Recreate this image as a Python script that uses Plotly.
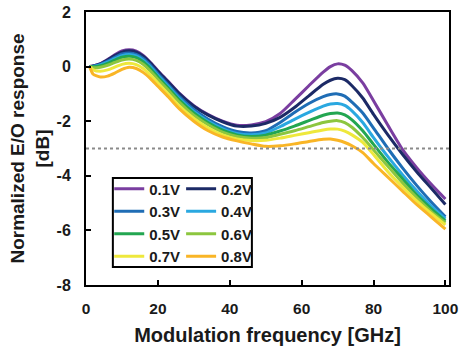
import plotly.graph_objects as go

freq = [1, 2, 4, 6, 8, 10, 12, 14, 16, 18, 20, 23, 26, 30, 34, 38, 42, 46, 50, 54,
        58, 62, 66, 68, 70, 72, 74, 77, 80, 84, 88, 92, 96, 100]

v01 = [0, 0.02, 0.11, 0.26, 0.43, 0.57, 0.62, 0.57, 0.40, 0.14, -0.15, -0.56, -0.98, -1.43, -1.76, -2.0, -2.15, -2.14, -2.02, -1.72,
       -1.22, -0.70, -0.20, 0.0, 0.10, 0.05, -0.15, -0.60, -1.25, -2.15, -3.02, -3.70, -4.30, -4.85]
v02 = [0, 0.02, 0.10, 0.24, 0.40, 0.53, 0.58, 0.53, 0.37, 0.12, -0.17, -0.58, -1.0, -1.45, -1.78, -2.02, -2.18, -2.18, -2.08, -1.86,
       -1.50, -1.07, -0.65, -0.50, -0.43, -0.48, -0.70, -1.15, -1.75, -2.50, -3.20, -3.85, -4.45, -5.05]
v03 = [0, 0.01, 0.08, 0.20, 0.34, 0.46, 0.50, 0.45, 0.29, 0.04, -0.26, -0.68, -1.10, -1.57, -1.93, -2.20, -2.38, -2.43, -2.35, -2.05,
       -1.68, -1.35, -1.10, -1.02, -1.0, -1.08, -1.30, -1.70, -2.25, -3.0, -3.70, -4.35, -4.95, -5.50]
v04 = [0, 0.0, 0.06, 0.16, 0.29, 0.40, 0.44, 0.39, 0.23, -0.02, -0.32, -0.74, -1.17, -1.64, -2.0, -2.27, -2.45, -2.50, -2.43, -2.20,
       -1.93, -1.68, -1.45, -1.37, -1.35, -1.42, -1.62, -2.05, -2.60, -3.30, -3.95, -4.55, -5.10, -5.58]
v05 = [0, -0.01, 0.03, 0.12, 0.24, 0.34, 0.38, 0.33, 0.17, -0.08, -0.38, -0.80, -1.23, -1.70, -2.06, -2.33, -2.50, -2.56, -2.51, -2.36,
       -2.18, -1.98, -1.78, -1.72, -1.70, -1.77, -1.95, -2.35, -2.85, -3.50, -4.10, -4.70, -5.20, -5.65]
v06 = [0, -0.04, -0.02, 0.05, 0.15, 0.24, 0.28, 0.23, 0.08, -0.17, -0.46, -0.88, -1.31, -1.78, -2.13, -2.40, -2.56, -2.62, -2.60, -2.48,
       -2.35, -2.20, -2.05, -2.0, -1.98, -2.05, -2.22, -2.60, -3.05, -3.65, -4.25, -4.80, -5.30, -5.72]
v07 = [0, -0.12, -0.17, -0.12, -0.02, 0.08, 0.12, 0.07, -0.08, -0.32, -0.60, -1.02, -1.45, -1.90, -2.25, -2.50, -2.65, -2.71, -2.70, -2.62,
       -2.52, -2.42, -2.32, -2.29, -2.29, -2.36, -2.50, -2.78, -3.22, -3.85, -4.40, -4.92, -5.38, -5.80]
v08 = [0, -0.28, -0.38, -0.35, -0.24, -0.10, -0.02, -0.07, -0.22, -0.45, -0.72, -1.12, -1.55, -2.0, -2.35, -2.58, -2.72, -2.83, -2.92, -2.90,
       -2.83, -2.74, -2.66, -2.65, -2.70, -2.78, -2.90, -3.15, -3.55, -4.05, -4.55, -5.05, -5.50, -5.95]

labels = ["0.1V", "0.2V", "0.3V", "0.4V", "0.5V", "0.6V", "0.7V", "0.8V"]
series = [v01, v02, v03, v04, v05, v06, v07, v08]
colors = ["#7a3ea0", "#1c2a66", "#1f6db5", "#2aa8e0", "#23a651", "#8cc63f", "#eee83c", "#f9b526"]

x_ticks = [0, 20, 40, 60, 80, 100]
y_ticks = [2, 0, -2, -4, -6, -8]
threshold = -3

FONT = "Liberation Sans, Arial, sans-serif"
TXT = "#1a1a1a"

fig = go.Figure()
for i, (lab, vals, col) in enumerate(zip(labels, series, colors)):
    fig.add_trace(go.Scatter(
        x=freq, y=vals, mode="lines", name=lab,
        line=dict(color=col, width=3, shape="spline", smoothing=0.6),
        legend="legend" if i % 2 == 0 else "legend2",
    ))

fig.add_hline(y=threshold, line=dict(color="#8a8a8a", width=2, dash="dot"))

fig.add_shape(type="rect", xref="paper", yref="paper",
              x0=0.074, x1=0.457, y0=0.066, y1=0.392,
              line=dict(color="black", width=2), fillcolor="rgba(0,0,0,0)")

legend_common = dict(
    font=dict(family=FONT, size=15, color=TXT, weight="bold"),
    bgcolor="rgba(0,0,0,0)", borderwidth=0,
    orientation="v", xanchor="left", yanchor="top",
    itemwidth=30, tracegroupgap=0,
)

fig.update_layout(
    width=459, height=347,
    margin=dict(l=86, r=10, t=12, b=62, autoexpand=False),
    paper_bgcolor="white", plot_bgcolor="white",
    font=dict(family=FONT, color=TXT, weight="bold"),
    showlegend=True,
    legend=dict(x=0.064, y=0.412, **legend_common),
    legend2=dict(x=0.262, y=0.412, **legend_common),
    xaxis=dict(
        range=[0, 101], tickvals=x_ticks, ticktext=[str(t) for t in x_ticks],
        ticks="inside", ticklen=5, tickwidth=2, tickcolor="black",
        showline=True, linecolor="black", linewidth=2, mirror=True,
        showgrid=False, zeroline=False, automargin=False,
        tickfont=dict(family=FONT, size=15.5, color=TXT, weight="bold"),
        ticklabelstandoff=8,
        title=dict(text="Modulation frequency [GHz]",
                   font=dict(family=FONT, size=20, color=TXT, weight="bold"),
                   standoff=12),
    ),
    yaxis=dict(
        range=[-8, 2], tickvals=y_ticks, ticktext=[str(t) for t in y_ticks],
        ticks="inside", ticklen=5, tickwidth=2, tickcolor="black",
        showline=True, linecolor="black", linewidth=2, mirror=True,
        showgrid=False, zeroline=False, automargin=False,
        tickfont=dict(family=FONT, size=16, color=TXT, weight="bold"),
        ticklabelstandoff=10,
        title=dict(text="Normalized E/O response<br>[dB]",
                   font=dict(family=FONT, size=19, color=TXT, weight="bold"),
                   standoff=2),
    ),
)

# remove the browser's default page margin so the figure fills the window
fig.write_html("out.html",
               config={"displayModeBar": False},
               post_script="document.body.style.margin='0';document.body.style.overflow='hidden';")
